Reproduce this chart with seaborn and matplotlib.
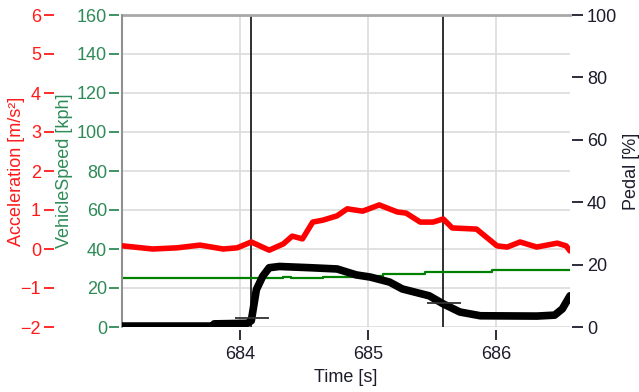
import matplotlib
matplotlib.use("Agg")
import matplotlib.pyplot as plt
import seaborn as sns
import pandas as pd

# ---------------- data ----------------
acc_time = [683.086, 683.32, 683.51, 683.69, 683.87, 683.98, 684.09, 684.23, 684.34, 684.41,
            684.49, 684.57, 684.65, 684.76, 684.84, 684.96, 685.09, 685.23, 685.30, 685.41,
            685.51, 685.59, 685.66, 685.85, 686.01, 686.09, 686.19, 686.32, 686.48, 686.55, 686.58]
acc_vals = [0.08, 0.0, 0.03, 0.10, 0.0, 0.03, 0.18, -0.03, 0.13, 0.33,
            0.26, 0.69, 0.74, 0.85, 1.03, 0.97, 1.13, 0.95, 0.92, 0.69,
            0.69, 0.77, 0.54, 0.51, 0.08, 0.05, 0.18, 0.05, 0.15, 0.08, -0.05]

spd_time = [683.08, 684.30, 684.34, 684.40, 684.55, 684.65, 685.00, 685.12, 685.45, 685.97, 686.58]
spd_vals = [25.0, 25.0, 25.8, 25.2, 25.2, 25.8, 26.3, 27.2, 28.0, 29.2, 29.2]

ped_time = [683.08, 683.79, 683.80, 684.06, 684.09, 684.13, 684.18, 684.23, 684.31, 684.55,
            684.76, 684.91, 685.02, 685.17, 685.27, 685.48, 685.59, 685.72, 685.88, 686.32,
            686.46, 686.52, 686.58]
ped_vals = [0.3, 0.3, 1.0, 1.2, 2.0, 12.0, 16.3, 19.0, 19.4, 19.0,
            18.6, 16.7, 16.0, 14.4, 12.2, 10.0, 7.4, 4.8, 3.6, 3.5,
            3.8, 5.8, 10.0]

cursor_times = [684.09, 685.59]
cursor_pedal = [3.0, 7.7]

x_ticks = [684, 685, 686]
spd_ticks = [0, 20, 40, 60, 80, 100, 120, 140, 160]
acc_ticks = [-2, -1, 0, 1, 2, 3, 4, 5, 6]
ped_ticks = [0, 20, 40, 60, 80, 100]

df_acc = pd.DataFrame({"Time": acc_time, "Acceleration": acc_vals})
df_spd = pd.DataFrame({"Time": spd_time, "Speed": spd_vals})
df_ped = pd.DataFrame({"Time": ped_time, "Pedal": ped_vals})

# ---------------- style ----------------
sns.set_style("white")
plt.rcParams["font.family"] = ["Liberation Sans", "DejaVu Sans"]
FS = 13
LFS = 13

RED = "#ff1a1a"
GREEN_LINE = "#008000"
GREEN_TXT = "#2e8b57"
DARK = "#1c1c2c"
PX = 0.72  # points per pixel at 100 dpi

W, H = 639, 392
fig = plt.figure(figsize=(W / 100, H / 100), dpi=100)
L, R, T, B = 122, 570, 15, 327
ax = fig.add_axes([L / W, 1 - B / H, (R - L) / W, (B - T) / H])
ax_acc = ax.twinx()
ax_ped = ax.twinx()

# ---------------- data lines ----------------
sns.lineplot(data=df_spd, x="Time", y="Speed", ax=ax, color=GREEN_LINE,
             linewidth=1.6, drawstyle="steps-post", zorder=3)
sns.lineplot(data=df_acc, x="Time", y="Acceleration", ax=ax_acc, color="#ff0000",
             linewidth=4.0, zorder=3)
sns.lineplot(data=df_ped, x="Time", y="Pedal", ax=ax_ped, color="black",
             linewidth=5.5, zorder=3)

# cursors
for ct, cp in zip(cursor_times, cursor_pedal):
    ax.axvline(ct, color="#303030", linewidth=1.4, zorder=2)
    ax_ped.hlines(cp, ct - 0.13, ct + 0.14, color="#303030", linewidth=1.3, zorder=4)

# ---------------- axes ----------------
ax.set_xlim(683.08, 686.58)
ax.set_ylim(0, 160)
ax_acc.set_ylim(-2, 6)
ax_ped.set_ylim(0, 100)

ax.set_xticks(x_ticks)
ax.set_yticks(spd_ticks)
ax_acc.set_yticks(acc_ticks)
ax_ped.set_yticks(ped_ticks)

ax.grid(True, color="#dcdcdc", linewidth=1.2)
ax.set_axisbelow(True)

for a in (ax, ax_acc, ax_ped):
    for s in a.spines.values():
        s.set_visible(False)
ax.spines["top"].set_visible(True)
ax.spines["top"].set_color("#a8a8a8")
ax.spines["top"].set_linewidth(2.0)
ax.plot([0, 0], [0, 1], transform=ax.transAxes, color="#909090", linewidth=1.5,
        clip_on=False, zorder=5)

# speed axis (left, inner)
ax.spines["left"].set_position(("outward", 3 * PX))
ax.tick_params(axis="y", which="both", left=True, length=10 * PX, width=1.3,
               color=GREEN_TXT, labelcolor=GREEN_TXT, labelsize=FS, pad=2 * PX)
ax.set_ylabel("VehicleSpeed [kph]", color=GREEN_TXT, fontsize=LFS)
ax.yaxis.set_label_coords((73 - L) / (R - L), 0.5)

# acceleration axis (left, outer)
ax_acc.yaxis.tick_left()
ax_acc.yaxis.set_label_position("left")
ax_acc.spines["left"].set_position(("outward", 68 * PX))
ax_acc.tick_params(axis="y", which="both", left=True, right=False, length=10 * PX, width=1.3,
                   color=RED, labelcolor=RED, labelsize=FS, pad=3 * PX)
ax_acc.set_ylabel("Acceleration [m/s²]", color=RED, fontsize=LFS)
ax_acc.yaxis.set_label_coords((25 - L) / (R - L), 0.5)

# pedal axis (right)
ax_ped.spines["right"].set_position(("outward", 2 * PX))
ax_ped.tick_params(axis="y", which="both", right=True, length=11 * PX, width=1.3,
                   color=DARK, labelcolor=DARK, labelsize=FS, pad=4 * PX)
ax_ped.set_ylabel("Pedal [%]", color=DARK, fontsize=13)
ax_ped.yaxis.set_label_coords((623 - L) / (R - L), 0.5)

# x axis
ax.spines["bottom"].set_position(("outward", 3 * PX))
ax.tick_params(axis="x", which="both", bottom=True, length=10 * PX, width=1.3,
               color=DARK, labelcolor=DARK, labelsize=FS, pad=6 * PX)
ax.set_xlabel("Time [s]", color=DARK, fontsize=LFS)
ax.xaxis.set_label_coords(0.5, (B - 369) / (B - T))
ax_acc.set_xlabel("")
ax_ped.set_xlabel("")
ax_acc.tick_params(axis="x", bottom=False, labelbottom=False)
ax_ped.tick_params(axis="x", bottom=False, labelbottom=False)

fig.savefig("out.png", dpi=100)
